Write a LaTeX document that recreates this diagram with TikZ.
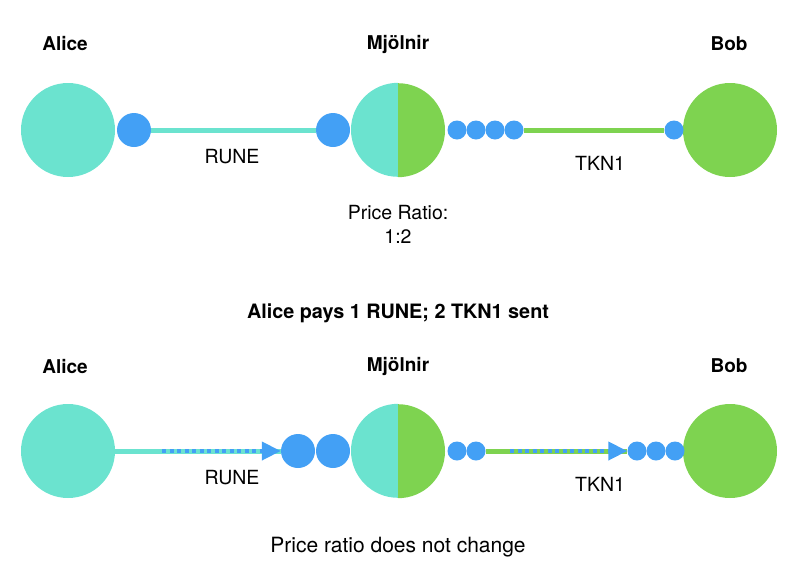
\documentclass[tikz,border=0pt]{standalone}
\usepackage{fontspec}
\setmainfont{TeX Gyre Heros}
\usetikzlibrary{arrows.meta}

\definecolor{runeteal}{HTML}{6BE3CF}
\definecolor{tkngreen}{HTML}{7ED350}
\definecolor{coinblue}{HTML}{43A0F5}

\tikzset{
  pool/.style={circle, inner sep=0pt, minimum size=94pt},
  bigcoin/.style={circle, fill=coinblue, inner sep=0pt, minimum size=34pt},
  smallcoin/.style={circle, fill=coinblue, inner sep=0pt, minimum size=19pt},
  who/.style={font=\fontsize{19}{21}\selectfont\bfseries},
  lbl/.style={font=\fontsize{19.5}{24}\selectfont, align=center},
  runeline/.style={draw=runeteal, line width=5pt},
  tknline/.style={draw=tkngreen, line width=5pt},
  flow/.style={draw=coinblue, line width=4pt, dash pattern=on 4pt off 3.5pt,
    -{Triangle[length=19pt, width=18pt]}}
}

\begin{document}
\begin{tikzpicture}[x=1pt, y=-1pt]
  \useasboundingbox (0,0) rectangle (800,574);

  % top row
  \node[who] (alice1) at (65,44) {Alice};
  \node[who] (mjol1) at (398,44) {Mjölnir};
  \node[who] (bob1) at (729,44) {Bob};

  \node[pool, fill=runeteal] (a1) at (68,130) {};
  \node[pool] (m1) at (398,130) {};
  \fill[runeteal] (m1.north) arc[start angle=90, end angle=270, radius=47pt] -- cycle;
  \fill[tkngreen] (m1.south) arc[start angle=-90, end angle=90, radius=47pt] -- cycle;
  \node[pool, fill=tkngreen] (b1) at (730,130) {};

  \node[bigcoin] (ra1) at (134,130) {};
  \node[bigcoin] (rm1) at (333,130) {};
  \draw[runeline] (ra1) -- (rm1);

  \node[smallcoin] (tm1) at (457,130) {};
  \node[smallcoin] (tm2) at (476,130) {};
  \node[smallcoin] (tm3) at (495,130) {};
  \node[smallcoin] (tm4) at (514,130) {};
  \node[smallcoin] (tb1) at (674,130) {};
  \draw[tknline] (tm4) -- (tb1);

  \node[lbl] (rune1) at (232,157) {RUNE};
  \node[lbl] (tkn1) at (600,163) {TKN1};
  \node[lbl] (ratio) at (398,224) {Price Ratio:\\1:2};

  \node[font=\fontsize{19.8}{24}\selectfont\bfseries] (title) at (398,313) {Alice pays 1 RUNE; 2 TKN1 sent};

  % bottom row
  \node[who] (alice2) at (65,366) {Alice};
  \node[who] (mjol2) at (398,366) {Mjölnir};
  \node[who] (bob2) at (729,366) {Bob};

  \node[pool, fill=runeteal] (a2) at (68,451) {};
  \node[pool] (m2) at (398,451) {};
  \fill[runeteal] (m2.north) arc[start angle=90, end angle=270, radius=47pt] -- cycle;
  \fill[tkngreen] (m2.south) arc[start angle=-90, end angle=90, radius=47pt] -- cycle;
  \node[pool, fill=tkngreen] (b2) at (730,451) {};

  \node[bigcoin] (rm2) at (298,451) {};
  \node[bigcoin] (rm3) at (333,451) {};
  \coordinate (runego) at (162,451);
  \draw[runeline] (a2) -- (rm2);
  \draw[flow] (runego) -- (rm2);

  \node[smallcoin] (tm5) at (457,451) {};
  \node[smallcoin] (tm6) at (476,451) {};
  \node[smallcoin] (tb2) at (637,451) {};
  \node[smallcoin] (tb3) at (656,451) {};
  \node[smallcoin] (tb4) at (675,451) {};
  \coordinate (tkngo) at (510,451);
  \draw[tknline] (tm6) -- (tb2);
  \draw[flow] (tkngo) -- (tb2);

  \node[lbl] (rune2) at (232,478) {RUNE};
  \node[lbl] (tkn2) at (600,484) {TKN1};
  \node[lbl, font=\fontsize{21}{24}\selectfont] (same) at (398,547) {Price ratio does not change};
\end{tikzpicture}
\end{document}
